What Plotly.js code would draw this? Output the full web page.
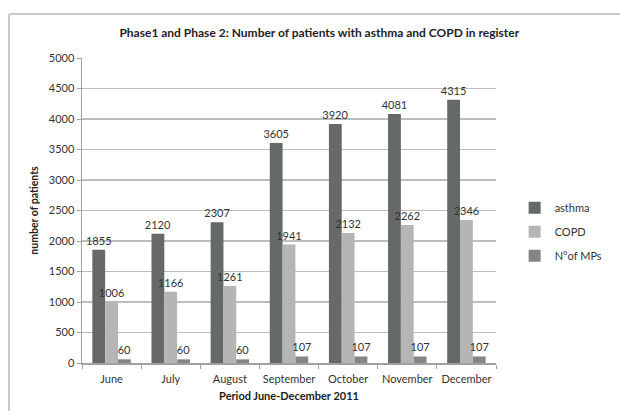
<!DOCTYPE html>
<html>
<head>
<meta charset="utf-8">
<script src="https://cdn.plot.ly/plotly-3.0.1.min.js"></script>
<style>
  html, body { margin: 0; padding: 0; background: #fff; overflow: hidden; }
  #frame { position: absolute; left: 8px; top: 13px; width: 700px; height: 500px; border: 2px solid #c8c8c8; border-radius: 3px; box-sizing: border-box; }
  #chart { position: absolute; left: 0; top: 0; width: 620px; height: 411px; }
</style>
</head>
<body>
<div id="frame"></div>
<div id="chart"></div>
<script>
const months = ["June", "July", "August", "September", "October", "November", "December"];
const asthma = [1855, 2120, 2307, 3605, 3920, 4081, 4315];
const copd = [1006, 1166, 1261, 1941, 2132, 2262, 2346];
const mps = [60, 60, 60, 107, 107, 107, 107];
const yTicks = [0, 500, 1000, 1500, 2000, 2500, 3000, 3500, 4000, 4500, 5000];

const FONT = "Lato, 'Open Sans', sans-serif";

function series(name, values, color, group) {
  return {
    type: "bar",
    name: name,
    x: months,
    y: values,
    marker: { color: color },
    text: values.map(String),
    textposition: "outside",
    constraintext: "none",
    textfont: { family: FONT, size: 11, color: "#333" },
    cliponaxis: false,
    legendgroup: group,
    hoverinfo: "x+y+name"
  };
}

const data = [
  series("asthma", asthma, "#656969", "a"),
  series("COPD", copd, "#b5b5b5", "b"),
  series("N°of MPs", mps, "#858585", "c")
];

const layout = {
  width: 620,
  height: 411,
  margin: { l: 82, r: 87, t: 58, b: 48 },
  paper_bgcolor: "rgba(0,0,0,0)",
  plot_bgcolor: "rgba(0,0,0,0)",
  font: { family: FONT, size: 11, color: "#333" },
  title: {
    text: "<b>Phase1 and Phase 2: Number of patients with asthma and COPD in register</b>",
    font: { family: FONT, size: 12, color: "#222" },
    x: 0.515, xref: "container", xanchor: "center",
    y: 0.92, yref: "container", yanchor: "middle"
  },
  barmode: "group",
  bargap: 0.35,
  bargroupgap: 0,
  xaxis: {
    type: "category",
    tickangle: 0,
    showline: true, linecolor: "#a0a0a0", linewidth: 1.5,
    ticks: "outside", tickson: "boundaries", ticklen: 4, tickcolor: "#a0a0a0",
    ticklabelstandoff: 5,
    tickfont: { family: FONT, size: 11, color: "#333" },
    showgrid: false,
    title: { text: "<b>Period June-December 2011</b>", font: { family: FONT, size: 11, color: "#222" }, standoff: 8 }
  },
  yaxis: {
    range: [0, 5000],
    tickvals: yTicks,
    showline: true, linecolor: "#a0a0a0", linewidth: 1.5,
    ticks: "outside", ticklen: 4, tickcolor: "#a0a0a0",
    gridcolor: "#bdbdbd", gridwidth: 1.5,
    zeroline: false,
    tickfont: { family: FONT, size: 11, color: "#333" },
    title: { text: "<b>number of patients</b>", font: { family: FONT, size: 10.5, color: "#222" }, standoff: 8 }
  },
  legend: {
    x: 1.045, xanchor: "left",
    y: 0.43, yanchor: "middle",
    font: { family: FONT, size: 11, color: "#333" },
    traceorder: "grouped",
    tracegroupgap: 5,
    itemwidth: 30,
    bgcolor: "rgba(0,0,0,0)"
  },
  showlegend: true
};

Plotly.newPlot("chart", data, layout, { displayModeBar: false, staticPlot: true });
</script>
</body>
</html>
